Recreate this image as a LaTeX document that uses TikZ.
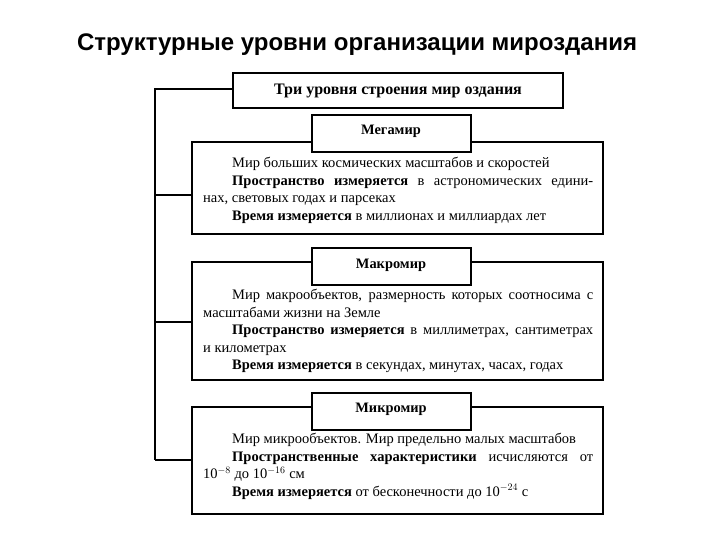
\documentclass[tikz,border=0pt]{standalone}
\usepackage{fontspec}
\setmainfont{Liberation Serif}
\newfontfamily\titlefont{Liberation Sans}
\begin{document}
\begin{tikzpicture}[x=1pt,y=-1pt,
  box/.style={draw,line width=1.2pt,fill=white},
  conn/.style={line width=1.1pt},
  hdr/.style={font=\bfseries\fontsize{14.4}{16}\selectfont},
  body/.style={anchor=north west,inner sep=0pt,align=left,font=\fontsize{14.5}{17.5}\selectfont}]
\useasboundingbox (0,0) rectangle (720,540);
\node[font=\titlefont\bfseries\fontsize{24}{28}\selectfont] (title) at (357,45) {Структурные уровни организации мироздания};
% top box
\draw[box] (233,73) rectangle (563,108);
\node[font=\bfseries\fontsize{16}{18}\selectfont] (top) at (398,91) {Три уровня строения мир оздания};
\coordinate (tl) at (233,89);
\coordinate (c0) at (155,89);
\coordinate (c1) at (155,195);
\coordinate (c2) at (155,322);
\coordinate (c3) at (155,460);
\draw[conn] (tl) -- (c0) -- (c3);
% mega
\draw[box] (192,142) rectangle (603,234);
\coordinate (m1) at (192,195);
\draw[conn] (c1) -- (m1);
\draw[box] (312,115) rectangle (471,152);
\node[hdr] (mega) at (391,131) {Мегамир};
\node[body] (megat) at (203,157) {%
\hspace*{29pt}Мир больших космических масштабов и скоростей\\
\hspace*{29pt}\makebox[361pt][s]{\textbf{Пространство измеряется} в астрономических едини-}\\
нах, световых годах и парсеках\\
\hspace*{29pt}\textbf{Время измеряется} в миллионах и миллиардах лет};
% macro
\draw[box] (192,262) rectangle (603,380);
\coordinate (m2) at (192,322);
\draw[conn] (c2) -- (m2);
\draw[box] (312,248) rectangle (471,285);
\node[hdr] (macro) at (391,265) {Макромир};
\node[body] (macrot) at (203,289) {%
\hspace*{29pt}\makebox[361pt][s]{Мир макрообъектов, размерность которых соотносима с}\\
масштабами жизни на Земле\\
\hspace*{29pt}\makebox[361pt][s]{\textbf{Пространство измеряется} в миллиметрах, сантиметрах}\\
и километрах\\
\hspace*{29pt}\textbf{Время измеряется} в секундах, минутах, часах, годах};
% micro
\draw[box] (192,407) rectangle (603,514);
\coordinate (m3) at (192,460);
\draw[conn] (c3) -- (m3);
\draw[box] (312,393) rectangle (471,430);
\node[hdr] (micro) at (391,409) {Микромир};
\node[body] (microt) at (203,433) {%
\hspace*{29pt}Мир микрообъектов. Мир предельно малых масштабов\\
\hspace*{29pt}\makebox[361pt][s]{\textbf{Пространственные характеристики} исчисляются от}\\
10$^{-8}$ до 10$^{-16}$ см\\
\hspace*{29pt}\textbf{Время измеряется} от бесконечности до 10$^{-24}$ с};
\end{tikzpicture}
\end{document}
